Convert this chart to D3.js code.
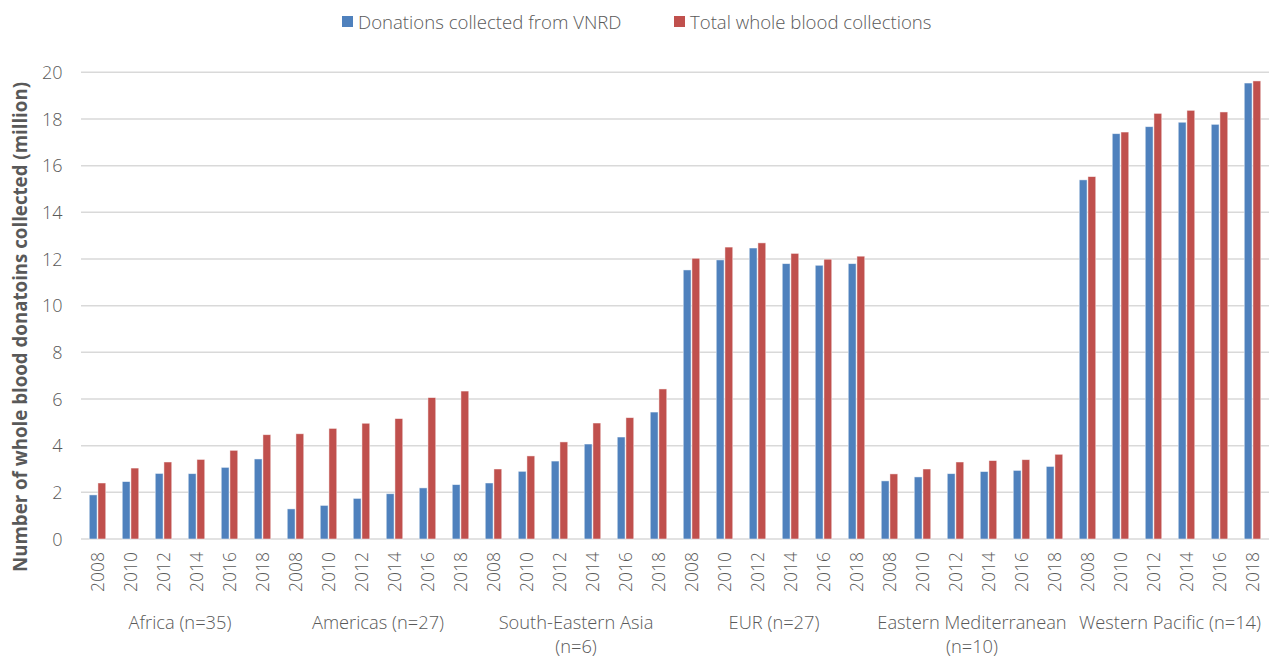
<!DOCTYPE html>
<html><head><meta charset="utf-8">
<script src="https://cdn.jsdelivr.net/npm/d3@7"></script>
<style>body{margin:0;background:#fff}svg{display:block}text{font-family:"Open Sans","Noto Sans",sans-serif;}</style>
</head><body><svg id="c" width="1269" height="659"></svg>
<script>
const regions = ["Africa (n=35)", "Americas (n=27)", "South-Eastern Asia|(n=6)", "EUR (n=27)", "Eastern Mediterranean|(n=10)", "Western Pacific (n=14)"];
const years = ["2008","2010","2012","2014","2016","2018"];
const seriesNames = ["Donations collected from VNRD", "Total whole blood collections"];
const vnrd = [
  1.89, 2.46, 2.81, 2.80, 3.07, 3.43,
  1.29, 1.44, 1.74, 1.94, 2.19, 2.33,
  2.40, 2.90, 3.34, 4.07, 4.37, 5.44,
  11.53, 11.96, 12.47, 11.80, 11.73, 11.80,
  2.49, 2.66, 2.80, 2.89, 2.94, 3.11,
  15.39, 17.37, 17.67, 17.86, 17.77, 19.54
];
const total = [
  2.40, 3.04, 3.30, 3.41, 3.80, 4.47,
  4.51, 4.74, 4.96, 5.16, 6.06, 6.34,
  3.00, 3.56, 4.16, 4.97, 5.20, 6.43,
  12.03, 12.51, 12.69, 12.24, 11.99, 12.12,
  2.79, 3.00, 3.30, 3.36, 3.40, 3.63,
  15.53, 17.44, 18.24, 18.37, 18.30, 19.63
];
const yTicks = [0,2,4,6,8,10,12,14,16,18,20];
const colors = ["#4f81bd", "#c0504d"];

(function(){
const cats = [];
regions.forEach((r,i)=>years.forEach((yr,j)=>cats.push({key:i+"-"+yr, year:yr, region:i, idx:i*6+j})));

const svg = d3.select("#c");
const pL = 81, pR = 1269, pT = 72.3, pB = 539;
const x = d3.scaleBand().domain(cats.map(c=>c.key)).range([pL,pR]).paddingInner(0.5).paddingOuter(0.25);
const xs = d3.scaleBand().domain([0,1]).range([0, x.bandwidth()]).paddingInner(0.1);
const y = d3.scaleLinear().domain([0,20]).range([pB, pT]);
const textCol = "#595959";
const fw = 300;

svg.append("g").selectAll("line").data(yTicks).join("line")
  .attr("x1", pL).attr("x2", pR).attr("y1", d=>y(d)).attr("y2", d=>y(d))
  .attr("stroke", "#d9d9d9").attr("stroke-width", 1.5);

const yAxis = d3.axisLeft(y).tickValues(yTicks).tickSize(0).tickPadding(0);
const yg = svg.append("g").attr("transform", `translate(${pL-18.5},0)`).call(yAxis);
yg.select(".domain").remove();
yg.selectAll("text").attr("font-size", 18).attr("font-weight", fw).attr("fill", textCol).attr("dy", "0.35em").attr("font-family", '"Open Sans",sans-serif');

const vals = [vnrd, total];
vals.forEach((arr, s)=>{
  svg.append("g").selectAll("rect").data(cats).join("rect")
    .attr("x", d=>x(d.key)+xs(s)).attr("width", xs.bandwidth())
    .attr("y", d=>y(arr[d.idx])).attr("height", d=>pB - y(arr[d.idx]))
    .attr("fill", colors[s]).attr("stroke", "#fff").attr("stroke-opacity", 0.6).attr("stroke-width", 0.8);
});

const xAxis = d3.axisBottom(x).tickSize(0).tickFormat(k=>k.split("-")[1]);
const xg = svg.append("g").attr("transform", `translate(0,${pB})`).call(xAxis);
xg.select(".domain").remove();
xg.selectAll("text").attr("font-size", 17.5).attr("font-weight", fw).attr("fill", textCol)
  .attr("transform", "rotate(-90)").attr("text-anchor", "end")
  .attr("x", -13).attr("y", 0).attr("dy", "0.35em").attr("font-family", '"Open Sans",sans-serif');

regions.forEach((r,i)=>{
  const x0 = pL + (pR-pL)/6*i, x1 = pL + (pR-pL)/6*(i+1);
  const lines = r.split("|");
  const t = svg.append("text").attr("x", (x0+x1)/2).attr("y", 629).attr("text-anchor", "middle")
    .attr("font-size", 18.3).attr("font-weight", fw).attr("fill", textCol);
  lines.forEach((l,k)=>t.append("tspan").attr("x", (x0+x1)/2).attr("dy", k===0?0:23.5).text(l));
});

svg.append("text").attr("transform", `translate(27,327) rotate(-90)`)
  .attr("text-anchor", "middle").attr("font-size", 18.7).attr("font-weight", "bold").attr("fill", textCol)
  .text("Number of whole blood donatoins collected (million)");

const leg = [{x:342, c:colors[0], t:seriesNames[0]}, {x:674, c:colors[1], t:seriesNames[1]}];
leg.forEach(l=>{
  svg.append("rect").attr("x", l.x).attr("y", 16).attr("width", 11).attr("height", 11).attr("fill", l.c);
  svg.append("text").attr("x", l.x+16).attr("y", 22).attr("dy", "0.35em").attr("font-size", 18.6).attr("font-weight", fw).attr("fill", textCol).text(l.t);
});
})();
</script></body></html>
